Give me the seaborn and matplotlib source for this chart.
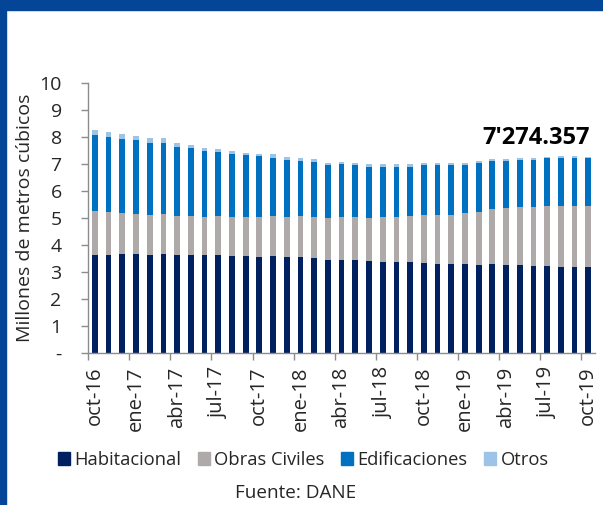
import numpy as np
import pandas as pd
import matplotlib
matplotlib.use("Agg")
import matplotlib.pyplot as plt
import seaborn as sns
from matplotlib.patches import Rectangle

# monthly volumes, millones de metros cubicos (oct-16 .. oct-19)
habitacional = [3.63, 3.63, 3.65, 3.67, 3.63, 3.67, 3.63, 3.63, 3.63, 3.63, 3.59, 3.59, 3.57,
                3.60, 3.57, 3.57, 3.53, 3.46, 3.46, 3.44, 3.40, 3.38, 3.37, 3.36, 3.33, 3.30,
                3.28, 3.28, 3.27, 3.30, 3.25, 3.25, 3.21, 3.21, 3.17, 3.17, 3.17]
obras_civiles = [1.64, 1.60, 1.54, 1.49, 1.49, 1.48, 1.44, 1.44, 1.41, 1.43, 1.45, 1.45, 1.47,
                 1.47, 1.48, 1.50, 1.51, 1.53, 1.58, 1.58, 1.60, 1.64, 1.68, 1.71, 1.78, 1.81,
                 1.83, 1.89, 1.96, 2.02, 2.10, 2.15, 2.19, 2.23, 2.27, 2.27, 2.27]
edificaciones = [2.80, 2.78, 2.74, 2.72, 2.66, 2.64, 2.56, 2.51, 2.45, 2.38, 2.34, 2.27, 2.24,
                 2.16, 2.11, 2.05, 2.03, 1.97, 1.94, 1.92, 1.90, 1.88, 1.85, 1.83, 1.83, 1.83,
                 1.83, 1.80, 1.79, 1.78, 1.76, 1.76, 1.76, 1.77, 1.79, 1.77, 1.76]
otros = [0.19, 0.18, 0.18, 0.17, 0.16, 0.16, 0.14, 0.12, 0.11, 0.12, 0.10, 0.10, 0.09,
         0.12, 0.11, 0.10, 0.10, 0.08, 0.09, 0.08, 0.11, 0.10, 0.10, 0.10, 0.08, 0.08,
         0.08, 0.08, 0.08, 0.07, 0.06, 0.06, 0.06, 0.06, 0.07, 0.09, 0.07]

mes = ["ene", "feb", "mar", "abr", "may", "jun", "jul", "ago", "sep", "oct", "nov", "dic"]
periodos = []
for i in range(37):
    m = (9 + i) % 12
    y = 16 + (9 + i) // 12
    periodos.append(f"{mes[m]}-{y}")

series = ["Habitacional", "Obras Civiles", "Edificaciones", "Otros"]
colores = ["#002060", "#AEAAAA", "#0070C0", "#9DC3E6"]
ultimo_label = "7'274.357"

df = pd.DataFrame({"periodo": periodos, "Habitacional": habitacional,
                   "Obras Civiles": obras_civiles, "Edificaciones": edificaciones,
                   "Otros": otros})
cum = df[series].cumsum(axis=1)

sns.set_style("white")
plt.rcParams["font.family"] = ["Open Sans", "DejaVu Sans"]

fig = plt.figure(figsize=(6.03, 5.05), dpi=100)
ax = fig.add_axes([0.146, 0.301, 0.841, 0.535])

# stacked bars: draw cumulative totals from top layer down
for s, c in reversed(list(zip(series, colores))):
    sns.barplot(x=df["periodo"], y=cum[s], color=c, width=0.42, ax=ax,
                saturation=1, linewidth=0)

ax.set_xlim(-0.5, len(periodos) - 0.5)
ax.set_ylim(0, 10)
ax.set_yticks(range(0, 11))
ax.set_yticklabels(["-"] + [str(i) for i in range(1, 11)], fontsize=14)
ax.set_xticks(range(0, len(periodos), 3))
ax.set_xticklabels(periodos[::3], rotation=90, fontsize=14.5)
ax.set_xticks(np.arange(-0.5, len(periodos), 3), minor=True)
ax.tick_params(axis="x", which="major", bottom=True, length=0, pad=10)
ax.tick_params(axis="x", which="minor", bottom=True, length=5, width=1,
               color="#8c8c8c", direction="out")
ax.tick_params(axis="y", left=True, length=5, width=1, color="#8c8c8c",
               direction="out", pad=14)
ax.set_xlabel("")
ax.set_ylabel("Millones de metros cúbicos", fontsize=14, labelpad=4)

for side in ["top", "right"]:
    ax.spines[side].set_visible(False)
for side in ["left", "bottom"]:
    ax.spines[side].set_color("#8c8c8c")
    ax.spines[side].set_linewidth(1)

ax.text(len(periodos) - 1 + 0.1, 7.96, ultimo_label, ha="right", va="center",
        fontsize=17, fontweight="bold", color="black")

handles = [Rectangle((0, 0), 1, 1, color=c) for c in colores]
fig.legend(handles, series, loc="center", bbox_to_anchor=(0.503, 0.089), ncol=4,
           frameon=False, fontsize=13.2, handlelength=0.65, handleheight=0.65,
           handletextpad=0.25, columnspacing=0.9)
fig.text(0.49, 0.024, "Fuente: DANE", ha="center", va="center", fontsize=13.6)

# blue frame
fig.patches.append(Rectangle((0, 1 - 10 / 505), 1, 10 / 505, transform=fig.transFigure,
                             color="#044597", zorder=0))
fig.patches.append(Rectangle((0, 0), 6 / 603, 1, transform=fig.transFigure,
                             color="#044597", zorder=0))

fig.savefig("out.png", dpi=100)
